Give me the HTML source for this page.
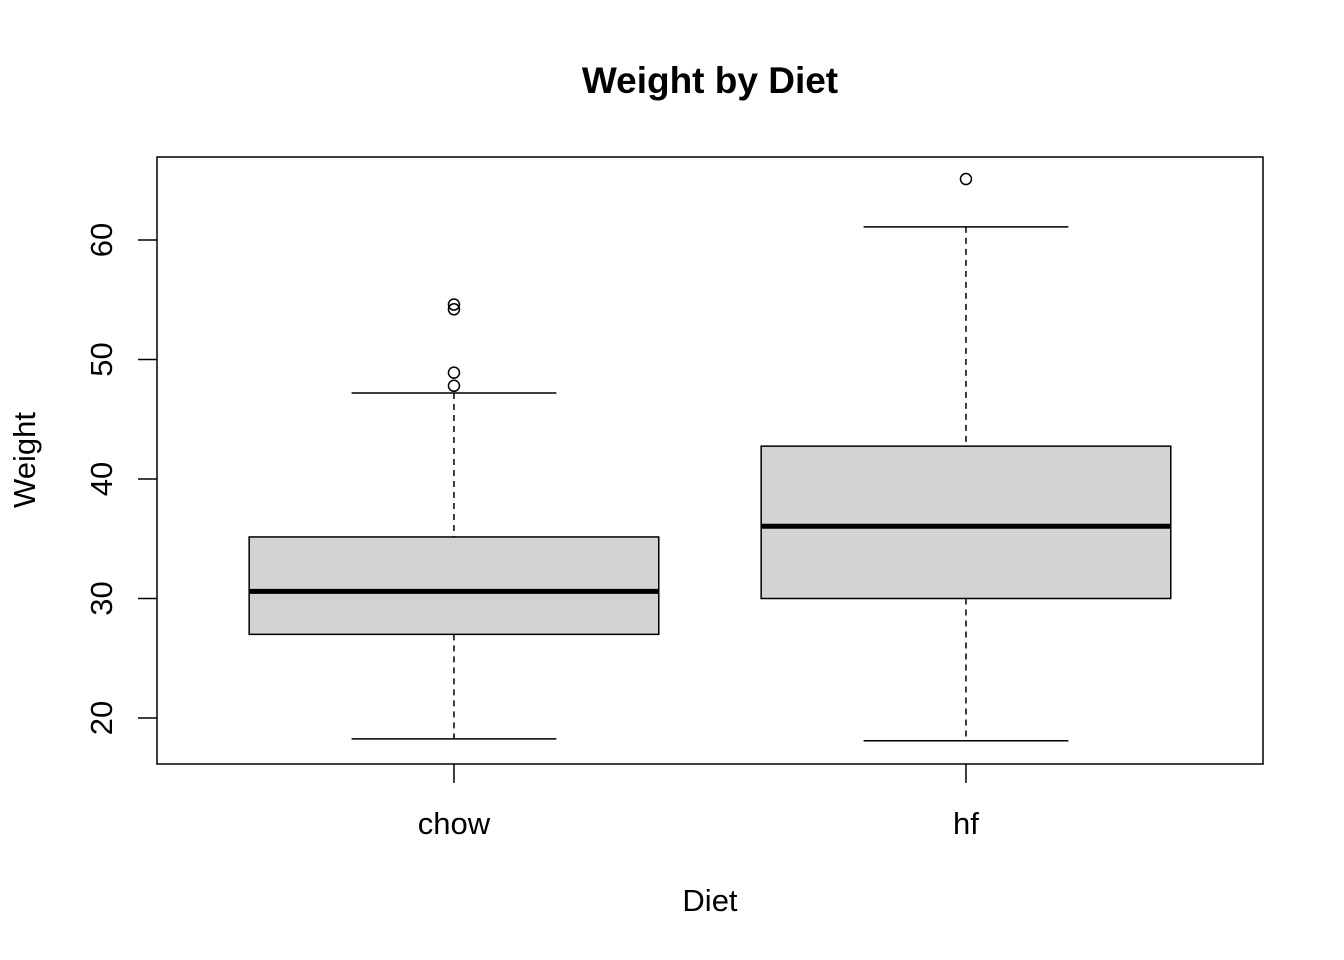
<!DOCTYPE html>
<html><head><meta charset="utf-8"><style>
html,body{margin:0;padding:0;background:#fff;}
svg{display:block;font-family:"Liberation Sans",Arial,sans-serif;}
</style></head><body>
<svg id="chart" width="1344" height="960" viewBox="0 0 1344 960">
<text x="710" y="93" text-anchor="middle" font-size="37" font-weight="bold">Weight by Diet</text>
<rect x="157" y="157" width="1106" height="607" fill="none" stroke="#000" stroke-width="1.5"/>
<g id="marks"></g>
<g id="axes"></g>
<text x="710" y="911" text-anchor="middle" font-size="31">Diet</text>
<text transform="translate(35,460) rotate(-90)" text-anchor="middle" font-size="31">Weight</text>
</svg>
<script>
const categories = ["chow", "hf"];
const lowerWhisker = [18.25, 18.1];
const q1 = [27.0, 30.0];
const median = [30.6, 36.05];
const q3 = [35.15, 42.75];
const upperWhisker = [47.2, 61.1];
const outliers = [[54.6, 54.2, 48.9, 47.8], [65.1]];
const yTicks = [20, 30, 40, 50, 60];

const NS = "http://www.w3.org/2000/svg";
function x(v){ return 157 + (v - 0.42) * 512; }
function y(v){ return 718 - (v - 20) * 11.95; }
function mk(tag, attrs, parent){
  const e = document.createElementNS(NS, tag);
  for (const k in attrs) e.setAttribute(k, attrs[k]);
  parent.appendChild(e);
  return e;
}
const marks = document.getElementById("marks");
const axes = document.getElementById("axes");
categories.forEach((c, i) => {
  const cx = x(i + 1), bl = x(i + 0.6), br = x(i + 1.4), cl = x(i + 0.8), cr = x(i + 1.2);
  const g = mk("g", {}, marks);
  
  
  const w1 = mk("line", {x1: cx, x2: cx, y1: y(upperWhisker[i]), y2: y(q3[i]), stroke: "#000", "stroke-width": 1.5, "stroke-dasharray": "6,5"}, g);
  
  
  const w2 = mk("line", {x1: cx, x2: cx, y1: y(q1[i]), y2: y(lowerWhisker[i]), stroke: "#000", "stroke-width": 1.5, "stroke-dasharray": "6,5"}, g);
  
  
  const c1 = mk("line", {x1: cl, x2: cr, y1: y(upperWhisker[i]), y2: y(upperWhisker[i]), stroke: "#000", "stroke-width": 1.5}, g);
  
  
  const c2 = mk("line", {x1: cl, x2: cr, y1: y(lowerWhisker[i]), y2: y(lowerWhisker[i]), stroke: "#000", "stroke-width": 1.5}, g);
  
  
  const r = mk("rect", {x: bl, y: y(q3[i]), width: br - bl, height: y(q1[i]) - y(q3[i]), fill: "#d3d3d3", stroke: "#000", "stroke-width": 1.5}, g);
  
  
  const m = mk("line", {x1: bl, x2: br, y1: y(median[i]), y2: y(median[i]), stroke: "#000", "stroke-width": 5}, g);
  
  
  outliers[i].forEach(o => {
    const p = mk("circle", {cx: cx, cy: y(o), r: 5.5, fill: "none", stroke: "#000", "stroke-width": 1.5}, g);
    
    
  });
  const t = mk("line", {x1: cx, x2: cx, y1: 764, y2: 783, stroke: "#000", "stroke-width": 1.5}, axes);
  
  
  const lab = mk("text", {x: cx, y: 834, "text-anchor": "middle", "font-size": 31}, axes);
  lab.textContent = c;
  
  
});
yTicks.forEach(v => {
  const t = mk("line", {x1: 138, x2: 157, y1: y(v), y2: y(v), stroke: "#000", "stroke-width": 1.5}, axes);
  
  
  const lab = mk("text", {transform: "translate(112," + y(v) + ") rotate(-90)", "text-anchor": "middle", "font-size": 31}, axes);
  lab.textContent = v;
  
  
});
</script>
</body></html>
